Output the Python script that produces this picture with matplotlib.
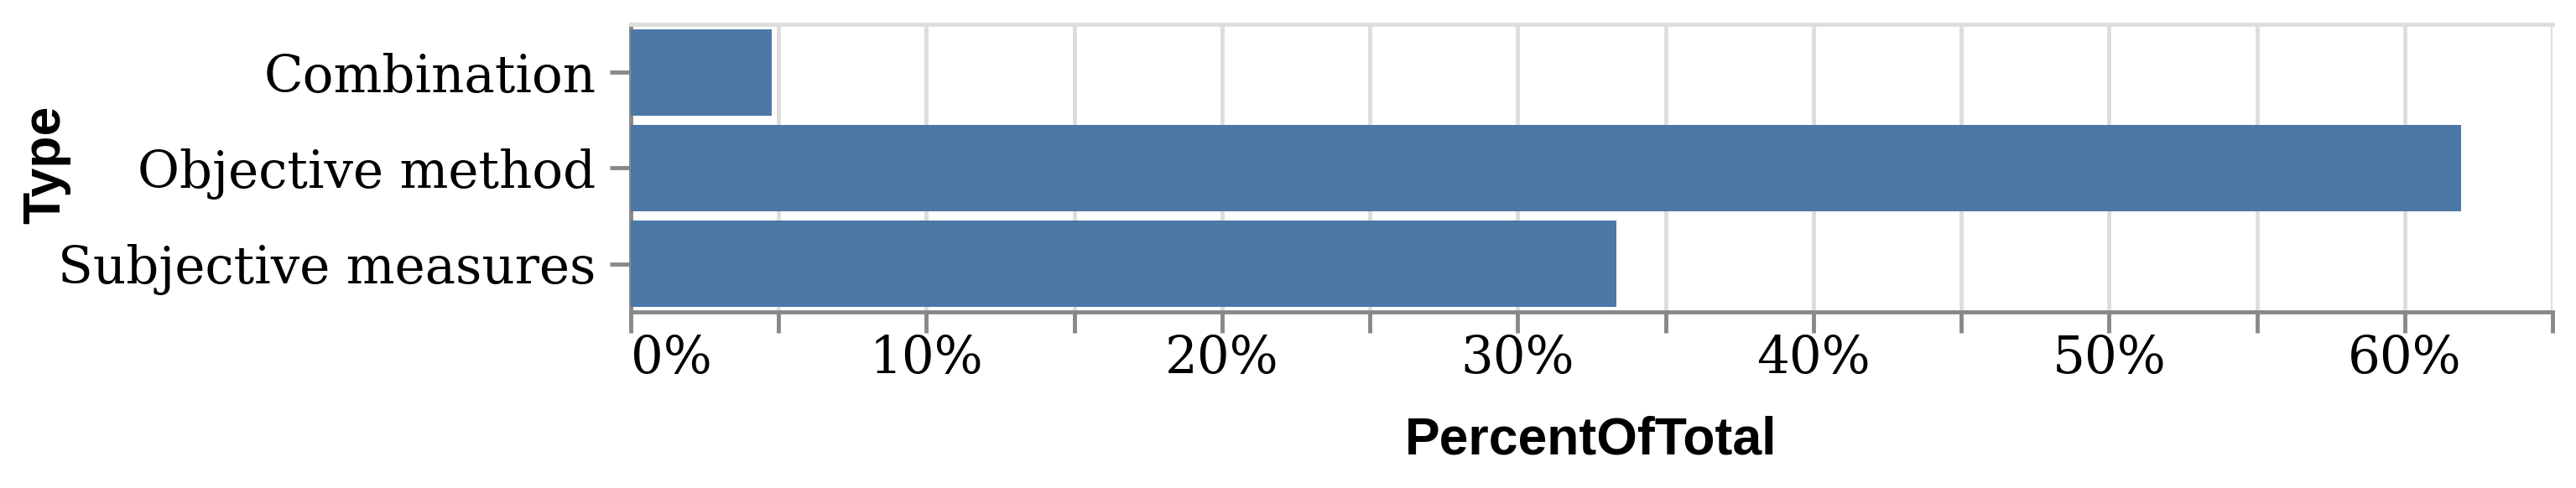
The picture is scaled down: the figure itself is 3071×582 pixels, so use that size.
import numpy as np
import matplotlib
matplotlib.use("Agg")
import matplotlib.pyplot as plt
from matplotlib.ticker import FuncFormatter

types = ["Combination", "Objective method", "Subjective measures"]
percent_of_total = [1 / 21, 13 / 21, 7 / 21]
tick_values = [0, 0.1, 0.2, 0.3, 0.4, 0.5, 0.6]


def main():
    fig = plt.figure(figsize=(30.71, 5.82), dpi=100)
    ax = fig.add_axes([752 / 3071, 1 - 372 / 582, (3043 - 752) / 3071, (372 - 29) / 582])

    y = np.arange(len(types))
    ax.barh(y, percent_of_total, height=0.9, color="#4c78a8", zorder=3)

    ax.set_xlim(0, 0.65)
    ax.set_ylim(len(types) - 0.5, -0.5)
    ax.set_xticks(np.arange(0, 0.651, 0.05))
    ax.xaxis.set_major_formatter(FuncFormatter(
        lambda v, p: f"{v * 100:.0f}%" if any(abs(v - t) < 1e-9 for t in tick_values) else ""))
    ax.set_yticks(y)
    ax.set_yticklabels(types)

    ax.grid(axis="x", color="#dddddd", linewidth=3.5, zorder=0)
    ax.spines["top"].set_color("#dddddd")
    ax.spines["top"].set_linewidth(3.5)
    ax.spines["right"].set_visible(False)
    for s in ["left", "bottom"]:
        ax.spines[s].set_color("#888888")
        ax.spines[s].set_linewidth(3.5)

    ax.tick_params(axis="x", color="#888888", width=3.5, length=18, pad=1)
    ax.tick_params(axis="y", color="#888888", width=3.5, length=18, pad=12)
    for lab in ax.get_xticklabels() + ax.get_yticklabels():
        lab.set_family("DejaVu Serif")
        lab.set_fontsize(44)
    ax.get_xticklabels()[0].set_horizontalalignment("left")

    fig.text(1897 / 3071, 1 - 525 / 582, "PercentOfTotal", ha="center", va="center",
             family="Liberation Sans", weight="bold", fontsize=45)
    fig.text(55 / 3071, 1 - 196 / 582, "Type", ha="center", va="center", rotation=90,
             family="Liberation Sans", weight="bold", fontsize=45)

    fig.savefig("out.png", dpi=100)


if __name__ == "__main__":
    main()
